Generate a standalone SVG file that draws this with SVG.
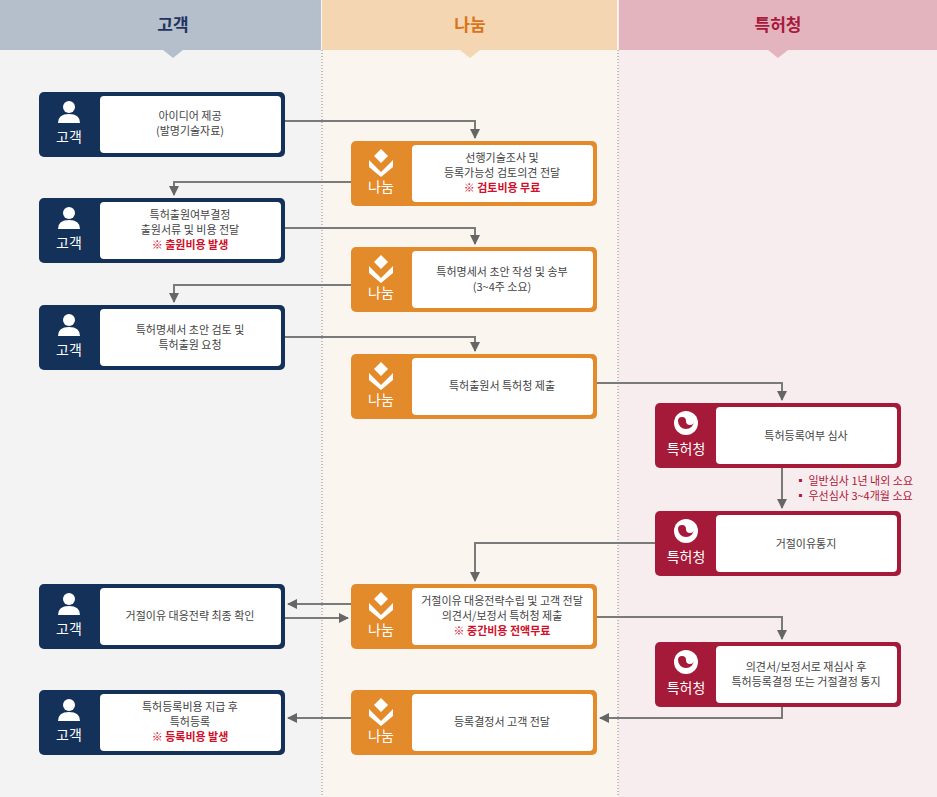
<svg xmlns="http://www.w3.org/2000/svg" width="937" height="797" viewBox="0 0 937 797">
<style>
text{font-family:"Noto Sans CJK KR","Noto Sans",sans-serif}
.t{font-size:11px;fill:#444;text-anchor:middle}
.r{font-size:11px;fill:#d0102a;text-anchor:middle;font-weight:bold}
.lab{font-size:14px;fill:#fff;text-anchor:middle}
.hd{font-size:17px;font-weight:bold;text-anchor:middle}
.c{fill:none;stroke:#7a7a7a;stroke-width:2}
.in{fill:#fff}
</style>
<defs>
<marker id="a" viewBox="0 0 10 10" refX="9" refY="5" markerWidth="5" markerHeight="5" orient="auto"><path d="M0,0L10,5L0,10z" fill="#666"/></marker>
<g id="person" fill="#fff"><circle cx="0" cy="-6" r="6"/><path d="M-11,10 Q-11,1 0,1 Q11,1 11,10z"/></g>
<g id="nanum" fill="#fff"><path d="M0,-14L7,-7L0,0L-7,-7z"/><path d="M-12,-3L0,9L12,-3L12,4L0,14L-12,4z"/></g>
<g id="kipo"><circle r="12" fill="#fff"/><path d="M-8,-2 A4,4 0 0 1 0,-2 A4,4 0 0 0 8,-2 A8,8 0 0 1 -8,-2z" fill="#a51a38"/></g>
</defs>
<rect x="0" y="0" width="321" height="797" fill="#f3f3f3"/>
<rect x="321" y="0" width="297" height="797" fill="#faf5ef"/>
<rect x="618" y="0" width="319" height="797" fill="#f7edef"/>
<rect x="0" y="0" width="321" height="50" fill="#b5bfcb"/>
<rect x="322" y="0" width="295" height="50" fill="#f4d7b2"/>
<rect x="619" y="0" width="318" height="50" fill="#e4b4be"/>
<path d="M163,50h20l-10,8z" fill="#b5bfcb"/><path d="M460,50h20l-10,8z" fill="#f4d7b2"/><path d="M768,50h20l-10,8z" fill="#e4b4be"/>
<text class="hd" x="173" y="31" fill="#1f3560">고객</text>
<text class="hd" x="470" y="31" fill="#d9741a">나눔</text>
<text class="hd" x="778" y="31" fill="#a61b3a">특허청</text>
<line x1="322" y1="50" x2="322" y2="797" stroke="#888" stroke-dasharray="1,2"/>
<line x1="618" y1="50" x2="618" y2="797" stroke="#888" stroke-dasharray="1,2"/>

<g id="connectors">
<path class="c" d="M285,121H475V138" marker-end="url(#a)"/>
<path class="c" d="M351,182H174V195" marker-end="url(#a)"/>
<path class="c" d="M285,228H475V244" marker-end="url(#a)"/>
<path class="c" d="M351,285H174V302" marker-end="url(#a)"/>
<path class="c" d="M285,337H475V351" marker-end="url(#a)"/>
<path class="c" d="M597,383H782V400" marker-end="url(#a)"/>
<path class="c" d="M782,468V508" marker-end="url(#a)"/>
<path class="c" d="M655,543H475V581" marker-end="url(#a)"/>
<path class="c" d="M351,604H288" marker-end="url(#a)"/>
<path class="c" d="M285,618H348" marker-end="url(#a)"/>
<path class="c" d="M597,617H782V639" marker-end="url(#a)"/>
<path class="c" d="M782,707V718H600" marker-end="url(#a)"/>
<path class="c" d="M351,718H288" marker-end="url(#a)"/>
</g>
<text x="795" y="485" font-size="11" fill="#b0173a">▪ 일반심사 1년 내외 소요</text>
<text x="795" y="500" font-size="11" fill="#b0173a">▪ 우선심사 3~4개월 소요</text>

<g id="c1"><rect x="39" y="92" width="246" height="65" rx="5" fill="#14315a"/><rect class="in" x="100" y="96" width="181" height="57" rx="4"/><use href="#person" x="69" y="113"/><text class="lab" x="69" y="142">고객</text><text class="t" x="190" y="120">아이디어 제공</text><text class="t" x="190" y="135">(발명기술자료)</text></g>
<g id="c2"><rect x="39" y="198" width="246" height="65" rx="5" fill="#14315a"/><rect class="in" x="100" y="202" width="181" height="57" rx="4"/><use href="#person" x="69" y="219"/><text class="lab" x="69" y="248">고객</text><text class="t" x="190" y="219">특허출원여부결정</text><text class="t" x="190" y="234">출원서류 및 비용 전달</text><text class="r" x="190" y="249">※ 출원비용 발생</text></g>
<g id="c3"><rect x="39" y="305" width="246" height="65" rx="5" fill="#14315a"/><rect class="in" x="100" y="309" width="181" height="57" rx="4"/><use href="#person" x="69" y="326"/><text class="lab" x="69" y="355">고객</text><text class="t" x="190" y="334">특허명세서 초안 검토 및</text><text class="t" x="190" y="349">특허출원 요청</text></g>
<g id="c4"><rect x="39" y="584" width="246" height="65" rx="5" fill="#14315a"/><rect class="in" x="100" y="588" width="181" height="57" rx="4"/><use href="#person" x="69" y="605"/><text class="lab" x="69" y="634">고객</text><text class="t" x="190" y="620">거절이유 대응전략 최종 확인</text></g>
<g id="c5"><rect x="39" y="690" width="246" height="65" rx="5" fill="#14315a"/><rect class="in" x="100" y="694" width="181" height="57" rx="4"/><use href="#person" x="69" y="711"/><text class="lab" x="69" y="740">고객</text><text class="t" x="190" y="711">특허등록비용 지급 후</text><text class="t" x="190" y="726">특허등록</text><text class="r" x="190" y="741">※ 등록비용 발생</text></g>

<g id="n1"><rect x="351" y="141" width="246" height="65" rx="5" fill="#e38a2a"/><rect class="in" x="412" y="145" width="181" height="57" rx="4"/><use href="#nanum" x="381" y="163"/><text class="lab" x="381" y="192">나눔</text><text class="t" x="502" y="162">선행기술조사 및</text><text class="t" x="502" y="177">등록가능성 검토의견 전달</text><text class="r" x="502" y="192">※ 검토비용 무료</text></g>
<g id="n2"><rect x="351" y="247" width="246" height="65" rx="5" fill="#e38a2a"/><rect class="in" x="412" y="251" width="181" height="57" rx="4"/><use href="#nanum" x="381" y="269"/><text class="lab" x="381" y="298">나눔</text><text class="t" x="502" y="276">특허명세서 초안 작성 및 송부</text><text class="t" x="502" y="291">(3~4주 소요)</text></g>
<g id="n3"><rect x="351" y="354" width="246" height="65" rx="5" fill="#e38a2a"/><rect class="in" x="412" y="358" width="181" height="57" rx="4"/><use href="#nanum" x="381" y="376"/><text class="lab" x="381" y="405">나눔</text><text class="t" x="502" y="390">특허출원서 특허청 제출</text></g>
<g id="n4"><rect x="351" y="584" width="246" height="65" rx="5" fill="#e38a2a"/><rect class="in" x="412" y="588" width="181" height="57" rx="4"/><use href="#nanum" x="381" y="606"/><text class="lab" x="381" y="635">나눔</text><text class="t" x="502" y="605">거절이유 대응전략수립 및 고객 전달</text><text class="t" x="502" y="620">의견서/보정서 특허청 제출</text><text class="r" x="502" y="635">※ 중간비용 전액무료</text></g>
<g id="n5"><rect x="351" y="690" width="246" height="65" rx="5" fill="#e38a2a"/><rect class="in" x="412" y="694" width="181" height="57" rx="4"/><use href="#nanum" x="381" y="712"/><text class="lab" x="381" y="741">나눔</text><text class="t" x="502" y="726">등록결정서 고객 전달</text></g>

<g id="k1"><rect x="655" y="403" width="246" height="65" rx="5" fill="#a51a38"/><rect class="in" x="716" y="407" width="181" height="57" rx="4"/><use href="#kipo" x="686" y="423"/><text class="lab" x="686" y="454">특허청</text><text class="t" x="806" y="440">특허등록여부 심사</text></g>
<g id="k2"><rect x="655" y="511" width="246" height="65" rx="5" fill="#a51a38"/><rect class="in" x="716" y="515" width="181" height="57" rx="4"/><use href="#kipo" x="686" y="531"/><text class="lab" x="686" y="562">특허청</text><text class="t" x="806" y="548">거절이유통지</text></g>
<g id="k3"><rect x="655" y="642" width="246" height="65" rx="5" fill="#a51a38"/><rect class="in" x="716" y="646" width="181" height="57" rx="4"/><use href="#kipo" x="686" y="662"/><text class="lab" x="686" y="693">특허청</text><text class="t" x="806" y="671">의견서/보정서로 재심사 후</text><text class="t" x="806" y="686">특허등록결정 또는 거절결정 통지</text></g>
</svg>
